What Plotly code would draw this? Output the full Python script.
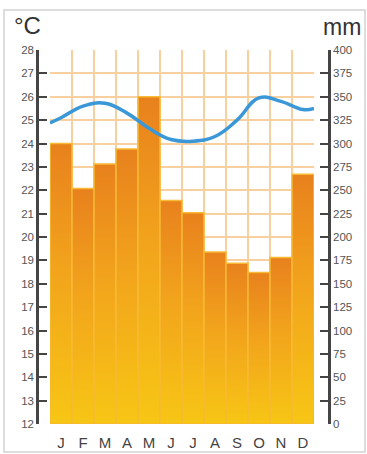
import plotly.graph_objects as go

# Monthly climate data
months = ["J", "F", "M", "A", "M", "J", "J", "A", "S", "O", "N", "D"]
precip_mm = [300, 252, 278, 294, 350, 239, 226, 184, 172, 162, 178, 267]
temp_c = [25.1, 25.6, 25.72, 25.3, 24.65, 24.17, 24.1, 24.3, 25.0, 25.95, 25.8, 25.45]
# temperature curve where it meets the left and right edges of the year
temp_edge_start = 24.88
temp_edge_end = 25.5

temp_ticks = list(range(12, 29))
mm_ticks = list(range(0, 401, 25))

GRID = "#f8d0a0"
AXIS = "#454545"
LABEL = "#555555"

W, H = 367, 454
ML, MR, MT, MB = 10, 10, 50, 30
pw = W - ML - MR


def px_x(px):
    return (px - ML) / pw


fig = go.Figure()

# precipitation columns with a vertical orange-to-yellow gradient
n = len(months)
for i, mm in enumerate(precip_mm):
    fig.add_trace(go.Scatter(
        x=[i - 0.5, i + 0.5, i + 0.5, i - 0.5, i - 0.5],
        y=[0, 0, mm, mm, 0],
        mode="lines",
        fill="toself",
        fillgradient=dict(
            type="vertical",
            colorscale=[[0, "#f7c615"], [0.55, "#f2a41c"], [1, "#e8811d"]],
            start=0,
            stop=mm,
        ),
        line=dict(color="#f8b935", width=1.5),
        yaxis="y",
        hoverinfo="skip",
        showlegend=False,
    ))

# temperature curve
fig.add_trace(go.Scatter(
    x=[-0.5] + list(range(n)) + [n - 0.5],
    y=[temp_edge_start] + temp_c + [temp_edge_end],
    mode="lines",
    line=dict(color="#3a98d8", width=3.5, shape="spline", smoothing=1.2),
    yaxis="y2",
    hoverinfo="skip",
    showlegend=False,
))

fig.update_layout(
    width=W, height=H,
    margin=dict(l=ML, r=MR, t=MT, b=MB, autoexpand=False),
    paper_bgcolor="white",
    plot_bgcolor="white",
    font=dict(family="Liberation Sans, Arial, sans-serif", color=LABEL),
    xaxis=dict(
        domain=[px_x(50), px_x(314)],
        range=[-0.5, n - 0.5],
        tickvals=list(range(n)),
        ticktext=months,
        tickfont=dict(size=15, color="#444444"),
        ticklabelstandoff=8,
        automargin=False,
        showgrid=False,
        zeroline=False,
        showline=False,
        ticks="",
        minor=dict(
            tickvals=[k - 0.5 for k in range(n + 1)],
            showgrid=True, gridcolor=GRID, gridwidth=2, ticks="",
        ),
        fixedrange=True,
    ),
    yaxis=dict(
        range=[0, 400],
        tickvals=mm_ticks,
        side="right",
        anchor="free",
        position=px_x(329),
        automargin=False,
        showline=True, linecolor=AXIS, linewidth=2.5,
        ticks="inside", ticklen=8, tickwidth=2, tickcolor=AXIS,
        tickfont=dict(size=11.5, color=LABEL),
        showgrid=True, gridcolor=GRID, gridwidth=2,
        zeroline=False,
    ),
    yaxis2=dict(
        range=[12, 28],
        tickvals=temp_ticks,
        side="left",
        overlaying="y",
        anchor="free",
        position=px_x(37),
        automargin=False,
        showline=True, linecolor=AXIS, linewidth=2.5,
        ticks="inside", ticklen=8, tickwidth=2, tickcolor=AXIS,
        tickfont=dict(size=11.5, color=LABEL),
        showgrid=False,
        zeroline=False,
    ),
    shapes=[dict(
        type="rect", xref="paper", yref="paper",
        x0=px_x(4), x1=px_x(365),
        y0=(H - MB - 452) / (H - MT - MB), y1=(H - MB - 10) / (H - MT - MB),
        line=dict(color="#d2d2d2", width=1.5),
        fillcolor="rgba(0,0,0,0)",
        layer="below",
    )],
    annotations=[
        dict(text="°C", xref="paper", yref="paper",
             x=px_x(12), y=(H - MB - 26) / (H - MT - MB),
             xanchor="left", yanchor="middle", showarrow=False,
             font=dict(size=24, color="#333333")),
        dict(text="mm", xref="paper", yref="paper",
             x=px_x(363), y=(H - MB - 27) / (H - MT - MB),
             xanchor="right", yanchor="middle", showarrow=False,
             font=dict(size=23, color="#333333")),
    ],
)

fig.write_html("out.html")
